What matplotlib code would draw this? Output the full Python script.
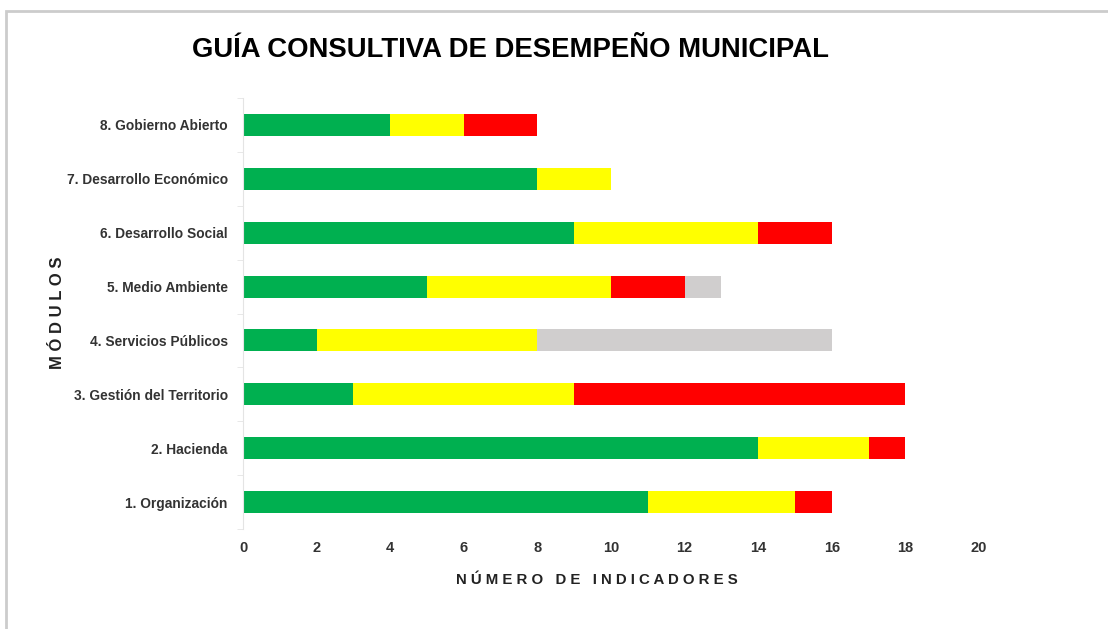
import matplotlib.pyplot as plt
import numpy as np
from matplotlib.patches import Rectangle

plt.rcParams['font.family'] = ['Liberation Sans', 'DejaVu Sans']

modulos = ["1. Organización", "2. Hacienda", "3. Gestión del Territorio",
           "4. Servicios Públicos", "5. Medio Ambiente", "6. Desarrollo Social",
           "7. Desarrollo Económico", "8. Gobierno Abierto"]
verde = [11, 14, 3, 2, 5, 9, 8, 4]
amarillo = [4, 3, 6, 6, 5, 5, 2, 2]
rojo = [1, 1, 9, 0, 2, 2, 0, 2]
gris = [0, 0, 0, 8, 1, 0, 0, 0]

colores = ["#00B050", "#FFFF00", "#FF0000", "#D0CECE"]

fig = plt.figure(figsize=(11.08, 6.29), dpi=100)
ax = fig.add_axes([243 / 1108, 1 - 529 / 629, 736 / 1108, 431 / 629])

y = np.arange(len(modulos))
left = np.zeros(len(modulos))
for serie, c in zip([verde, amarillo, rojo, gris], colores):
    ax.barh(y, serie, left=left, height=0.41, color=c, edgecolor="none")
    left += np.array(serie)

ax.set_xlim(0, 20)
ax.set_ylim(-0.5, 7.5)
ax.set_xticks(range(0, 21, 2))
ax.set_yticks(y)
ax.set_yticklabels(modulos)
ax.set_yticks(np.arange(-0.5, 8, 1), minor=True)

for s in ["top", "right", "bottom"]:
    ax.spines[s].set_visible(False)
ax.spines["left"].set_color("#e4e4e4")
ax.tick_params(axis="y", which="major", length=0, pad=11, labelsize=9.9,
               labelcolor="#333333")
ax.tick_params(axis="y", which="minor", length=4, color="#e4e4e4")
ax.tick_params(axis="x", length=0, pad=9, labelsize=10.5, labelcolor="#333333")
for t in ax.get_xticklabels() + ax.get_yticklabels():
    t.set_fontweight("bold")

fig.text(510 / 1108, 1 - 50 / 629, "GUÍA CONSULTIVA DE DESEMPEÑO MUNICIPAL",
         ha="center", va="center", fontsize=19.8, fontweight="bold")
fig.text(597 / 1108, 1 - 580 / 629, "N Ú M E R O   D E   I N D I C A D O R E S",
         ha="center", va="center", fontsize=10.8, fontweight="bold", color="#222222")
fig.text(57 / 1108, 1 - 313 / 629, "M Ó D U L O S", rotation=90,
         ha="center", va="center", fontsize=12, fontweight="bold", color="#222222")

fig.patches.append(Rectangle((6 / 1108, -0.1), 1.2, 1 - 11 / 629 + 0.1,
                             transform=fig.transFigure, fill=False,
                             edgecolor="#cccccc", linewidth=2))

fig.savefig("out.png", dpi=100)
